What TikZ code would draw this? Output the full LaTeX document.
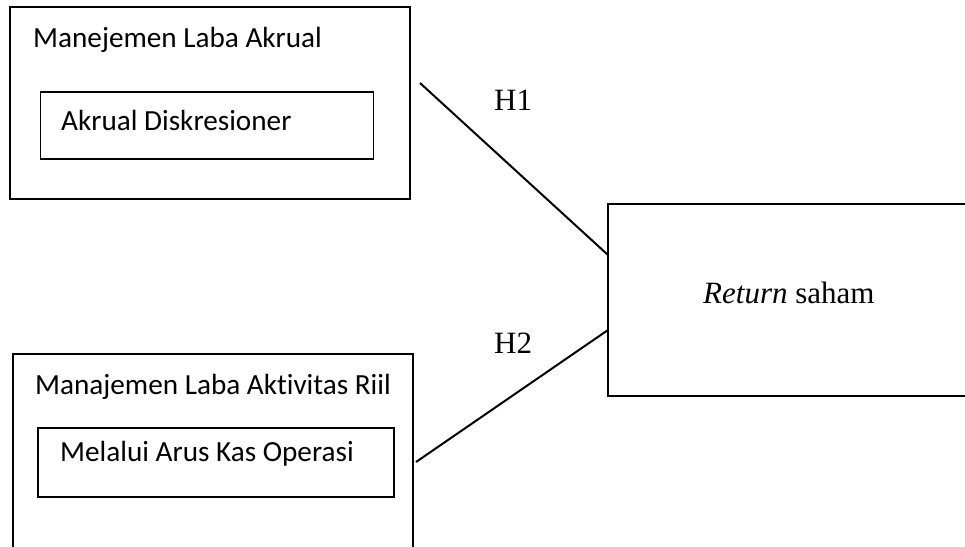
\documentclass[tikz,border=0pt]{standalone}
\usepackage{fontspec}
\setmainfont{Liberation Serif}
\newfontfamily\carl[Ligatures=NoCommon]{Carlito}
\begin{document}
\begin{tikzpicture}[x=1pt,y=-1pt,
  box/.style={draw, line width=1.3pt, inner sep=0pt, outer sep=0pt},
  sans/.style={font=\carl\fontsize{29.2}{34}\selectfont, anchor=base west, inner sep=0pt},
  serif/.style={font=\fontsize{31}{36}\selectfont, anchor=base west, inner sep=0pt},
  conn/.style={line width=2pt}]
\useasboundingbox (0,0) rectangle (965,546);
\clip (0,0) rectangle (965,546);
% top group
\node[box, minimum width=400pt, minimum height=192pt] (acc) at (210,103) {};
\node[box, minimum width=333pt, minimum height=67pt] (dac) at (207,125.5) {};
\node[sans] (t1) at (33,47) {Manejemen Laba Akrual};
\node[sans] (t2) at (61,130) {Akrual Diskresioner};
% bottom group
\node[box, minimum width=400pt, minimum height=220pt] (real) at (213,464) {};
\node[box, minimum width=356pt, minimum height=69pt] (cfo) at (216,462.5) {};
\node[sans] (t3) at (35,394) {Manajemen Laba Aktivitas Riil};
\node[sans] (t4) at (60,461) {Melalui Arus Kas Operasi};
% dependent variable
\node[box, minimum width=400pt, minimum height=192pt] (ret) at (808,300) {};
\node[serif] (rt) at (703,303) {\textit{Return} saham};
% hypotheses
\node[serif] (h1) at (494,110) {H1};
\node[serif] (h2) at (494,353) {H2};
\coordinate (s1) at (420,83);
\coordinate (s2) at (416,462);
\draw[conn] (s1) -- ([yshift=45pt]ret.west);
\draw[conn] (s2) -- ([yshift=-30pt]ret.west);
\end{tikzpicture}
\end{document}
